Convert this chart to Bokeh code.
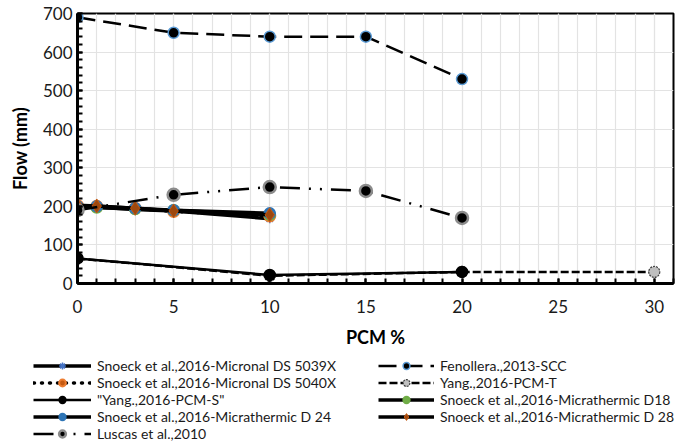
from bokeh.plotting import figure
from bokeh.models import Legend, LegendItem, SingleIntervalTicker, Range1d, Column, Row
from bokeh.embed import file_html
from bokeh.resources import INLINE

# ---- data ----
pcm_snoeck = [0, 1, 3, 5, 10]
flow_5039x = [200, 198, 192, 188, 168]
flow_5040x = [202, 200, 195, 187, 175]
flow_d18 = [198, 197, 193, 190, 178]
flow_d24 = [200, 200, 195, 190, 182]
flow_d28 = [203, 201, 195, 188, 178]

pcm_fenollera = [0, 5, 10, 15, 20]
flow_fenollera = [690, 650, 640, 640, 530]

pcm_luscas = [0, 5, 10, 15, 20]
flow_luscas = [190, 230, 250, 240, 170]

pcm_yang_s = [0, 10, 20]
flow_yang_s = [65, 22, 30]

pcm_yang_t = [0, 10, 20, 30]
flow_yang_t = [65, 20, 30, 30]

FONT = "Lato"

p = figure(width=685, height=350, x_range=Range1d(0, 31), y_range=Range1d(0, 700),
           output_backend="svg", toolbar_location=None,
           min_border_left=77, min_border_right=12, min_border_top=13, min_border_bottom=67)
p.background_fill_color = "white"
p.border_fill_color = "white"
p.outline_line_color = "black"
p.outline_line_width = 2

# axes
p.xaxis.ticker = SingleIntervalTicker(interval=5, num_minor_ticks=5)
p.yaxis.ticker = SingleIntervalTicker(interval=100, num_minor_ticks=5)
for ax in (p.xaxis[0], p.yaxis[0]):
    ax.axis_line_color = "black"
    ax.axis_line_width = 3
    ax.major_tick_in = 5
    ax.major_tick_out = 0
    ax.minor_tick_in = 5
    ax.minor_tick_out = 0
    ax.major_tick_line_color = "black"
    ax.minor_tick_line_color = "black"
    ax.major_tick_line_width = 2
    ax.minor_tick_line_width = 2
    ax.major_label_text_font = FONT
    ax.major_label_text_font_size = "17px"
    ax.major_label_text_color = "#1a1a1a"
    ax.axis_label_text_font = FONT
    ax.axis_label_text_font_style = "bold"
    ax.axis_label_text_font_size = "18px"
    ax.axis_label_text_color = "black"
p.xaxis.axis_label = "PCM %"
p.yaxis.axis_label = "Flow (mm)"
p.xaxis.major_label_standoff = 16
p.xaxis.axis_label_standoff = 10
p.yaxis.major_label_standoff = 5
p.yaxis.axis_label_standoff = 9

# grid
p.xgrid.grid_line_color = "#E3E3E3"
p.xgrid.minor_grid_line_color = "#E3E3E3"
p.xgrid.grid_line_width = 1.2
p.xgrid.minor_grid_line_width = 1.2
p.ygrid.grid_line_color = "#E3E3E3"
p.ygrid.grid_line_width = 1.2
p.ygrid.minor_grid_line_color = None

# legend strip: a blank figure under the chart whose ranges keep the data out of view
pl = figure(width=685, height=92, x_range=Range1d(1000, 1001), y_range=Range1d(1000, 1001),
            output_backend="svg", toolbar_location=None, min_border=0,
            min_border_left=0, min_border_right=0, min_border_top=0, min_border_bottom=0,
            x_axis_type=None, y_axis_type=None)
pl.outline_line_color = None
pl.grid.visible = False
pl.background_fill_color = "white"
pl.border_fill_color = "white"


def series(x, y, line_dash="solid", line_width=3, marker="circle", size=11,
           fill="black", outline="black", outline_width=1.5, outline_dash="solid", cap="butt"):
    out = []
    for fig in (p, pl):
        ln = fig.line(x, y, line_color="black", line_width=line_width, line_dash=line_dash,
                      line_cap=cap)
        sc = fig.scatter(x, y, marker=marker, size=size, fill_color=fill, line_color=outline,
                         line_width=outline_width, line_dash=outline_dash)
        out.append([ln, sc])
    return out[1]


r_5039x = series(pcm_snoeck, flow_5039x, line_width=3.5, marker="asterisk", size=9,
                 fill="#4472C4", outline="#4472C4", outline_width=1.5)
r_fen = series(pcm_fenollera, flow_fenollera, line_dash="18 8", line_width=2.5,
               fill="black", outline="#5B9BD5", outline_width=1.5)
r_5040x = series(pcm_snoeck, flow_5040x, line_dash="1 7", line_width=3.5, cap="round",
                 fill="#C55A11", outline="#ED7D31", outline_width=2)
r_yt = series(pcm_yang_t, flow_yang_t, line_dash="8 3", line_width=2.5,
              fill="#BFBFBF", outline="#404040", outline_width=1.2, outline_dash="2 1")
r_ys = series(pcm_yang_s, flow_yang_s, line_width=2.5, fill="black", outline="black")
r_d18 = series(pcm_snoeck, flow_d18, line_width=3.5, fill="#70AD47", outline="#70AD47")
r_d24 = series(pcm_snoeck, flow_d24, line_width=3.5, fill="#2E75B6", outline="#2E75B6")
r_d28 = series(pcm_snoeck, flow_d28, line_width=3.5, marker="diamond", size=14,
               fill="#9E480E", outline="#C55A11", outline_width=1)
r_lus = series(pcm_luscas, flow_luscas, line_dash="20 9 2 9 2 9", line_width=2.5, size=12,
               fill="black", outline="#8C8C8C", outline_width=2.5)

left_items = [
    LegendItem(label="Snoeck et al.,2016-Micronal DS 5039X", renderers=r_5039x),
    LegendItem(label="Snoeck et al.,2016-Micronal DS 5040X", renderers=r_5040x),
    LegendItem(label='"Yang.,2016-PCM-S"', renderers=r_ys),
    LegendItem(label="Snoeck et al.,2016-Micrathermic D 24", renderers=r_d24),
    LegendItem(label="Luscas et al.,2010", renderers=r_lus),
]
right_items = [
    LegendItem(label="Fenollera.,2013-SCC", renderers=r_fen),
    LegendItem(label="Yang.,2016-PCM-T", renderers=r_yt),
    LegendItem(label="Snoeck et al.,2016-Micrathermic D18", renderers=r_d18),
    LegendItem(label="Snoeck et al.,2016-Micrathermic D 28", renderers=r_d28),
]


def make_legend(items, loc, gw):
    lg = Legend(items=items, location=loc, orientation="vertical")
    lg.glyph_width = gw
    lg.glyph_height = 17
    lg.label_height = 17
    lg.spacing = 0
    lg.padding = 0
    lg.margin = 0
    lg.label_standoff = 6
    lg.border_line_color = None
    lg.background_fill_alpha = 0
    lg.label_text_font = FONT
    lg.label_text_font_size = "14px"
    lg.label_text_color = "#1a1a1a"
    return lg


pl.add_layout(make_legend(left_items, (33, 0), 58), "center")
pl.add_layout(make_legend(right_items, (378, 17), 56), "center")

layout = Column(children=[p, Row(children=[pl], spacing=0)], spacing=0)
open("out.html", "w").write(file_html(layout, INLINE))
